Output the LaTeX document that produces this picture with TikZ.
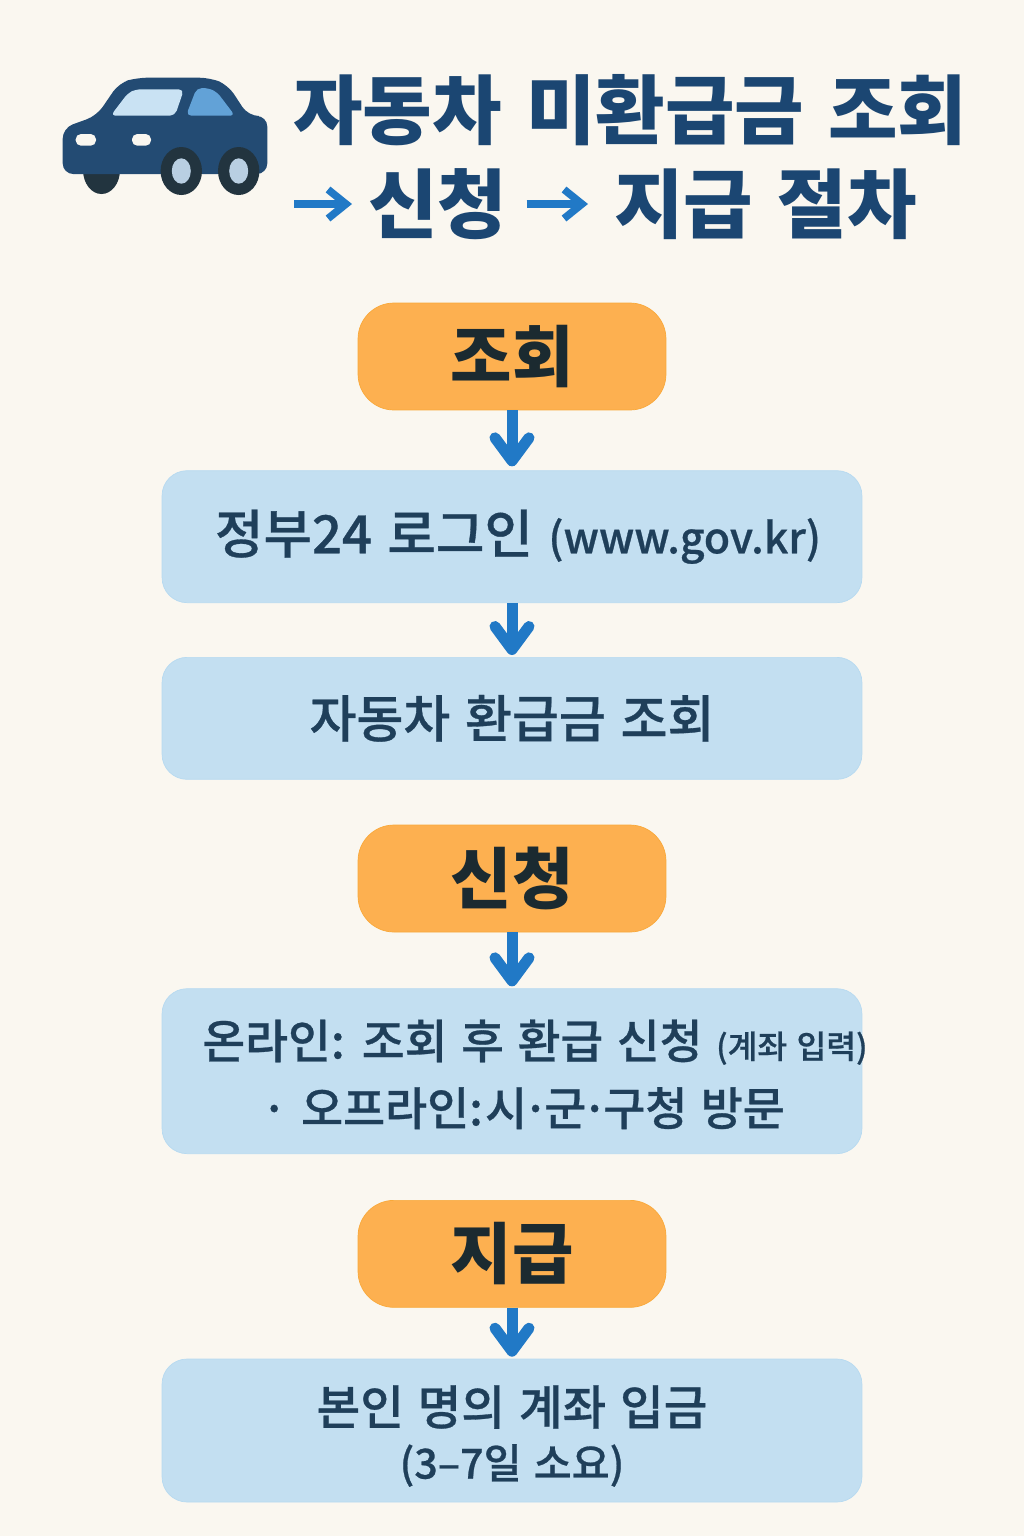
\documentclass[tikz,border=0pt]{standalone}
\usepackage{fontspec}
\usepackage{xcolor}
\newfontfamily\krfont{Noto Sans CJK KR}
\newfontfamily\krwide[WordSpace=1.4]{Noto Sans CJK KR}
\newfontfamily\krmedium[WordSpace=1.3, FakeBold=0.6]{Noto Sans CJK KR Medium}
\usetikzlibrary{arrows.meta, positioning, calc}

\definecolor{paper}{HTML}{FAF7F0}
\definecolor{navy}{HTML}{1B4672}
\definecolor{carbody}{HTML}{234B73}
\definecolor{tyre}{HTML}{22343F}
\definecolor{hub}{HTML}{B9CFE2}
\definecolor{flow}{HTML}{2179C6}
\definecolor{pillfill}{HTML}{FDB050}
\definecolor{pillline}{HTML}{F9A93A}
\definecolor{boxfill}{HTML}{C3DFF1}
\definecolor{boxline}{HTML}{B7DAF0}
\definecolor{boxtext}{HTML}{1F3F5A}
\definecolor{pilltext}{HTML}{1B2A30}

\begin{document}
\begin{tikzpicture}[
        x=0.02cm, y=-0.02cm,
        pill/.style={rectangle, draw=pillline, fill=pillfill, rounded corners=0.72cm, minimum width=6.16cm, minimum height=2.14cm, inner sep=0pt, text=pilltext, font=\krfont\bfseries\fontsize{38}{44}\selectfont},
        infobox/.style={rectangle, draw=boxline, fill=boxfill, rounded corners=0.5cm, minimum width=14cm, inner sep=0pt},
        boxlabel/.style={inner sep=0pt, text=boxtext, font=\krmedium\fontsize{29}{34}\selectfont},
        headline/.style={inner sep=0pt, text=navy, font=\krwide\bfseries\fontsize{43}{50}\selectfont},
        flowarrow/.style={-{Straight Barb[length=0.46cm, width=0.68cm, round]}, line width=0.22cm, draw=flow, shorten >=0.04cm},
        headarrow/.style={-{Straight Barb[length=0.36cm, width=0.58cm]}, line width=0.15cm, draw=flow}
    ]
        \useasboundingbox (0,0) rectangle (1024,1536);
        \fill[paper] (0,0) rectangle (1024,1536);

        % car
        \fill[tyre] (83,170) arc[start angle=180, end angle=360, x radius=18.5, y radius=-24] -- cycle;
        \fill[carbody, rounded corners=6pt] (62.7,174) -- (62.7,128) -- (96.7,115.7) -- (119,83) -- (136.7,77.7) -- (210,77.7) -- (228,85) -- (248.3,116) -- (267.3,116) -- (267.3,174) -- cycle;
        \fill[boxfill!90!white, rounded corners=3pt] (110.7,115.7) -- (128,93) -- (136,89.3) -- (184,89.3) -- (175,115.7) -- cycle;
        \fill[flow!60!boxfill, rounded corners=3pt] (186,115.7) -- (196.7,88) -- (208,88) -- (217,92) -- (235,115.7) -- cycle;
        \fill[paper, rounded corners=3pt] (75.7,134) rectangle (96,145.7);
        \fill[paper, rounded corners=3pt] (132,134) rectangle (151,145.7);
        \foreach \cx in {181.3,238.7} {
            \fill[tyre] (\cx,171) ellipse[x radius=20.7, y radius=24];
            \fill[hub] (\cx,171) ellipse[x radius=9.5, y radius=12.7];
        }

        % title
        \node[headline, anchor=west] (titlea) at (293,110) {자동차 미환급금 조회};
        \coordinate (titlestart) at (294,204);
        \node[headline, anchor=west] (titleb) at (368,204) {신청};
        \node[headline, anchor=west] (titlec) at (614,204) {지급 절차};
        \draw[headarrow, shorten >=0.32cm] (titlestart) -- (titleb);
        \draw[headarrow, shorten <=0.38cm, shorten >=0.52cm] (titleb) -- (titlec);

        % steps
        \node[pill] (lookup) at (512,356.5) {조회};
        \node[infobox, minimum height=2.64cm, below=1.2cm of lookup] (login) {};
        \node[boxlabel, xshift=0.12cm, font=\krmedium\fontsize{30}{34}\selectfont] (logintext) at (login) {정부24 로그인 {\fontsize{24.3}{28}\selectfont (www.gov.kr)}};
        \node[infobox, minimum height=2.44cm, below=1.08cm of login] (refund) {};
        \node[boxlabel] (refundtext) at (refund) {자동차 환급금 조회};
        \node[pill, below=0.9cm of refund] (apply) {신청};
        \node[infobox, minimum height=3.3cm, below=1.12cm of apply] (route) {};
        \node[boxlabel, xshift=0.46cm, yshift=0.58cm, font=\krmedium\fontsize{26.5}{32}\selectfont] (online) at (route) {온라인: 조회 후 환급 신청 {\fontsize{18.4}{22}\selectfont (계좌 입력)}};
        \node[boxlabel, xshift=0.22cm, yshift=-0.74cm, font=\krmedium\fontsize{26}{32}\selectfont] (offline) at (route) {·\hspace{0.3em}오프라인:\hspace{0.05em}시\hspace{-0.1em}·\hspace{-0.1em}군\hspace{-0.1em}·\hspace{-0.1em}구청 방문};
        \node[pill, below=0.92cm of route] (pay) {지급};
        \node[infobox, minimum height=2.86cm, below=1.02cm of pay] (deposit) {};
        \node[boxlabel, yshift=0.47cm, font=\krmedium\fontsize{27}{32}\selectfont] (deposita) at (deposit) {본인 명의 계좌 입금};
        \node[boxlabel, yshift=-0.7cm, font=\krmedium\fontsize{23.5}{28}\selectfont] (depositb) at (deposit) {(3–7일 소요)};

        \draw[flowarrow, shorten >=0.08cm] (lookup) -- (login);
        \draw[flowarrow] (login) -- (refund);
        \draw[flowarrow] (apply) -- (route);
        \draw[flowarrow] (pay) -- (deposit);
    \end{tikzpicture}
\end{document}
